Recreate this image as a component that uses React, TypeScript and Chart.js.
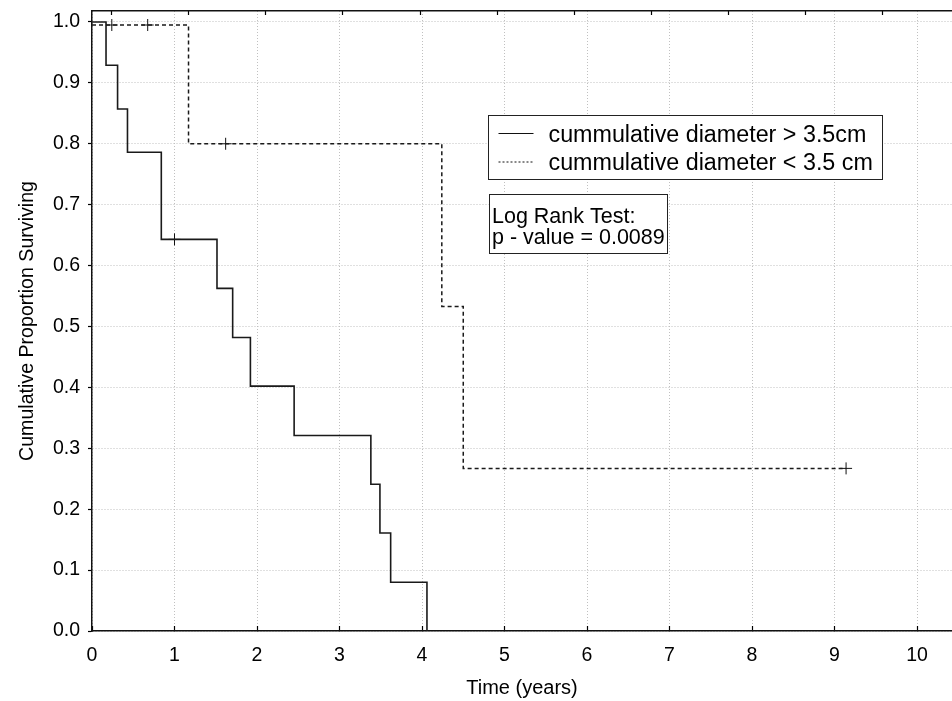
import React, { useEffect, useRef } from "react";
import { Chart, registerables } from "chart.js";

Chart.register(...registerables);

// ---- data ----
const seriesLabels = ["cummulative diameter > 3.5cm", "cummulative diameter < 3.5 cm"];

// Kaplan-Meier steps, group "> 3.5cm" (solid)
const largeTimes = [0, 0.17, 0.31, 0.43, 0.84, 1.515, 1.705, 1.92, 2.45, 3.38, 3.49, 3.62, 4.06];
const largeSurv = [1.0, 0.929, 0.857, 0.786, 0.643, 0.5625, 0.482, 0.402, 0.321, 0.241, 0.161, 0.08, 0.0];
const largeCensorTimes = [1.0];
const largeCensorSurv = [0.643];

// Kaplan-Meier steps, group "< 3.5 cm" (dashed)
const smallTimes = [0, 1.17, 4.24, 4.5, 9.14];
const smallSurv = [0.995, 0.8, 0.533, 0.267, 0.267];
const smallCensorTimes = [0.24, 0.675, 1.62, 9.14];
const smallCensorSurv = [0.995, 0.995, 0.8, 0.267];

const annotationLines = ["Log Rank Test:", "p - value = 0.0089"];
const xTitle = "Time (years)";
const yTitle = "Cumulative Proportion Surviving";
const xTickStep = 1;
const yTickStep = 0.1;

const FONT = '"Liberation Sans", Arial, sans-serif';

const toPoints = (xs: number[], ys: number[]) => xs.map((x, i) => ({ x, y: ys[i] }));

const noPad = (s: any) => {
  s.paddingTop = 0;
  s.paddingBottom = 0;
  s.paddingLeft = 0;
  s.paddingRight = 0;
};

const boxesPlugin = {
  id: "boxes",
  afterDraw(chart: any) {
    const ctx: CanvasRenderingContext2D = chart.ctx;
    ctx.save();
    // legend box
    const lx = 488.5, ly = 115.5, lw = 394, lh = 64;
    ctx.fillStyle = "#fff";
    ctx.fillRect(lx, ly, lw, lh);
    ctx.strokeStyle = "#222";
    ctx.lineWidth = 1;
    ctx.setLineDash([]);
    ctx.strokeRect(lx, ly, lw, lh);
    const items = chart.data.datasets.filter((d: any) => d.label);
    const sampleY = [133, 161.5];
    const baseY = [141.5, 169.5];
    items.forEach((ds: any, i: number) => {
      ctx.save();
      ctx.strokeStyle = "#111";
      ctx.lineWidth = 1;
      ctx.setLineDash(ds.borderDash && ds.borderDash.length ? [2, 2] : []);
      ctx.beginPath();
      ctx.moveTo(lx + 10, sampleY[i] + 0.5);
      ctx.lineTo(lx + 45, sampleY[i] + 0.5);
      ctx.stroke();
      ctx.restore();
      ctx.fillStyle = "#000";
      ctx.font = `23.3px ${FONT}`;
      ctx.textBaseline = "alphabetic";
      ctx.textAlign = "left";
      ctx.fillText(ds.label, lx + 60, baseY[i]);
    });
    // annotation box
    const ax = 489.5, ay = 194.5, aw = 178, ah = 59;
    ctx.fillStyle = "#fff";
    ctx.fillRect(ax, ay, aw, ah);
    ctx.strokeStyle = "#222";
    ctx.strokeRect(ax, ay, aw, ah);
    ctx.fillStyle = "#000";
    ctx.font = `21.5px ${FONT}`;
    ctx.fillText(annotationLines[0], ax + 2.5, 223.3);
    ctx.fillText(annotationLines[1], ax + 2.5, 244.3);
    ctx.restore();
  },
};

export default function App() {
  const ref = useRef<HTMLCanvasElement>(null);
  useEffect(() => {
    if (!ref.current) return;
    const gridColor = "#c0c0c0";
    const chart = new Chart(ref.current, {
      type: "line",
      data: {
        datasets: [
          {
            label: seriesLabels[0],
            data: toPoints(largeTimes, largeSurv),
            stepped: "before",
            borderColor: "#1a1a1a",
            borderWidth: 1.6,
            pointRadius: 0,
            fill: false,
          },
          {
            label: seriesLabels[1],
            data: toPoints(smallTimes, smallSurv),
            stepped: "before",
            borderColor: "#1a1a1a",
            borderWidth: 1.5,
            borderDash: [4, 3],
            pointRadius: 0,
            fill: false,
          },
          {
            data: toPoints(largeCensorTimes, largeCensorSurv),
            showLine: false,
            pointStyle: "cross",
            pointRadius: 6,
            pointBorderWidth: 1,
            pointBorderColor: "#111",
            borderColor: "#111",
          },
          {
            data: toPoints(smallCensorTimes, smallCensorSurv),
            showLine: false,
            pointStyle: "cross",
            pointRadius: 6,
            pointBorderWidth: 1,
            pointBorderColor: "#111",
            borderColor: "#111",
          },
        ],
      } as any,
      options: {
        animation: false,
        responsive: false,
        devicePixelRatio: 1,
        layout: { padding: 0, autoPadding: false },
        plugins: { legend: { display: false }, tooltip: { enabled: false } },
        scales: {
          x: {
            type: "linear",
            position: "bottom",
            min: 0,
            max: 10.424,
            afterFit: (s: any) => {
              s.height = 70;
              noPad(s);
            },
            ticks: {
              stepSize: xTickStep,
              includeBounds: false,
              color: "#000",
              font: { family: FONT, size: 19.5 },
              padding: 17.5,
              maxRotation: 0,
            },
            grid: {
              color: gridColor,
              lineWidth: 1,
              tickLength: -5,
              tickColor: "#000",
              tickWidth: 1.2,
            },
            border: { color: "#111", width: 1.5, dash: [1, 2] },
            title: {
              display: true,
              text: xTitle,
              color: "#000",
              font: { family: FONT, size: 20 },
              padding: { top: 0, bottom: 1 },
            },
          },
          x2: {
            type: "linear",
            position: "top",
            min: 0.7458,
            max: 11.9,
            afterFit: (s: any) => {
              s.height = 11;
              noPad(s);
            },
            ticks: { stepSize: 1, includeBounds: false, display: false },
            grid: {
              drawOnChartArea: false,
              tickLength: -4,
              tickColor: "#000",
              tickWidth: 1.2,
            },
            border: { color: "#111", width: 1.5 },
          },
          y: {
            type: "linear",
            position: "left",
            min: 0,
            max: 1.018,
            afterFit: (s: any) => {
              s.width = 92;
              noPad(s);
            },
            ticks: {
              stepSize: yTickStep,
              includeBounds: false,
              color: "#000",
              font: { family: FONT, size: 19.5 },
              padding: 8,
              callback: (v: any) => Number(v).toFixed(1),
            },
            grid: {
              color: gridColor,
              lineWidth: 1,
              tickLength: 4,
              tickColor: "#000",
              tickWidth: 1.2,
            },
            border: { color: "#111", width: 1.5, dash: [1, 2] },
            title: {
              display: true,
              text: yTitle,
              color: "#000",
              font: { family: FONT, size: 19.6 },
              padding: { top: 16, bottom: 0 },
            },
          },
        },
      } as any,
      plugins: [boxesPlugin],
    });
    return () => chart.destroy();
  }, []);

  return (
    <div style={{ position: "absolute", left: 0, top: 0, width: 952, height: 701, background: "#fff" }}>
      <canvas ref={ref} width={952} height={701} style={{ width: 952, height: 701, display: "block" }} />
    </div>
  );
}
